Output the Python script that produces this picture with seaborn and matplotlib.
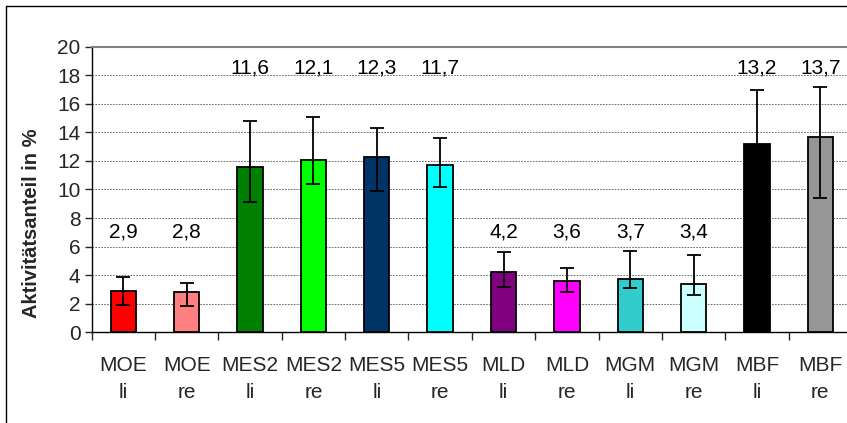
import matplotlib
matplotlib.use('Agg')
import matplotlib.pyplot as plt
from matplotlib.lines import Line2D
from matplotlib.ticker import MultipleLocator, FixedLocator
import numpy as np
import pandas as pd
import seaborn as sns

# data
categories = ['MOE\nli', 'MOE\nre', 'MES2\nli', 'MES2\nre', 'MES5\nli', 'MES5\nre',
              'MLD\nli', 'MLD\nre', 'MGM\nli', 'MGM\nre', 'MBF\nli', 'MBF\nre']
values = [2.9, 2.8, 11.6, 12.1, 12.3, 11.7, 4.2, 3.6, 3.7, 3.4, 13.2, 13.7]
err_low = [1.94, 1.82, 9.10, 10.36, 9.92, 10.20, 3.19, 2.80, 3.08, 2.63, 9.6, 9.38]
err_high = [3.89, 3.47, 14.82, 15.10, 14.29, 13.59, 5.60, 4.48, 5.71, 5.43, 16.95, 17.20]
bar_colors = ['#FF0000', '#FF8080', '#008000', '#00FF00', '#003366', '#00FFFF',
              '#800080', '#FF00FF', '#33CCCC', '#CCFFFF', '#000000', '#969696']

df = pd.DataFrame({'cat': categories, 'val': values})

sns.set_style('white')
plt.rcParams['font.family'] = ['Liberation Sans', 'DejaVu Sans']

fig = plt.figure(figsize=(8.47, 4.23), dpi=100)
ax = fig.add_axes([91.7 / 847, 1 - 332.3 / 423, (852 - 91.7) / 847, (332.3 - 46.7) / 423])

sns.barplot(data=df, x='cat', y='val', hue='cat', palette=bar_colors, legend=False,
            saturation=1, width=0.4, edgecolor='black', linewidth=1.3, ax=ax, zorder=3)

x = np.arange(len(categories))
vals = np.array(values)
yerr = [vals - np.array(err_low), np.array(err_high) - vals]
ax.errorbar(x, vals, yerr=yerr, fmt='none', ecolor='black', elinewidth=1.3,
            capsize=5, capthick=1.3, zorder=4)

# value labels above bars
for xi, v in zip(x, values):
    ypos = 18.5 if v > 10 else 7.0
    ax.text(xi, ypos, f'{v:.1f}'.replace('.', ','), ha='center', va='center',
            fontsize=15, color='black')

ax.set_ylim(0, 20)
ax.set_xlim(-0.5, len(categories) - 0.5)
ax.yaxis.set_major_locator(MultipleLocator(2))
ax.grid(axis='y', color='#555555', linestyle=(0, (2, 1.5)), linewidth=0.6, zorder=0)
ax.grid(axis='x', visible=False)
ax.set_axisbelow(True)

ax.set_xlabel('')
ax.set_ylabel('Aktivitätsanteil in %', fontsize=14.5, fontweight='bold')
ax.yaxis.set_label_coords(-0.067, 0.381)
ax.tick_params(axis='y', labelsize=15, length=5, width=1, direction='out', left=True, pad=3)
ax.tick_params(axis='x', which='major', labelsize=15, length=0, pad=17)
ax.xaxis.set_minor_locator(FixedLocator(np.arange(-0.5, len(categories), 1)))
ax.tick_params(axis='x', which='minor', length=6, width=1, direction='out', bottom=True)
for lbl in ax.get_xticklabels():
    lbl.set_linespacing(1.55)

for side in ['left', 'bottom']:
    ax.spines[side].set_color('black')
    ax.spines[side].set_linewidth(1)
ax.spines['top'].set_color('#808080')
ax.spines['top'].set_linewidth(1.5)
ax.spines['right'].set_visible(False)

# outer chart frame (left and top edges visible)
fig.add_artist(Line2D([6 / 847, 6 / 847], [0, 1 - 6 / 423], color='black', lw=1))
fig.add_artist(Line2D([6 / 847, 1], [1 - 6 / 423, 1 - 6 / 423], color='black', lw=1))

fig.savefig('out.png', dpi=100)
